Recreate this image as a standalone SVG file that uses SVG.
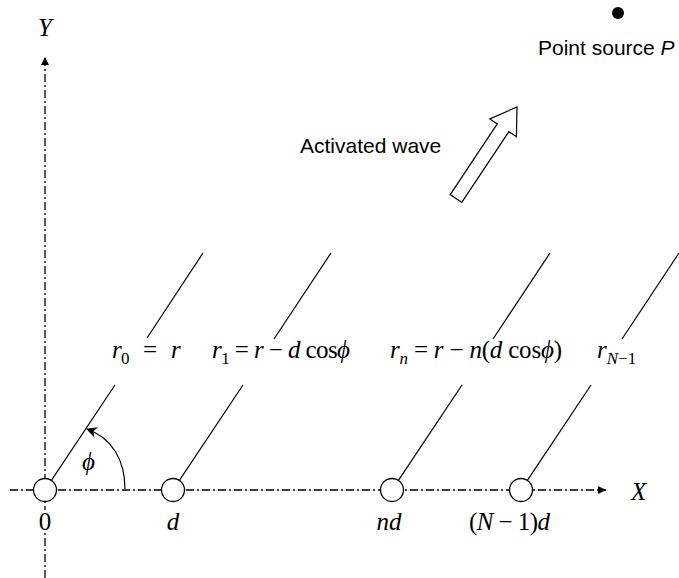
<svg xmlns="http://www.w3.org/2000/svg" width="679" height="578" viewBox="0 0 679 578">
<defs>
<style>
.axis{stroke:#000;stroke-width:1.3;fill:none;stroke-dasharray:8 3 2 3}
.ln{stroke:#000;stroke-width:1.2;fill:none}
.el{stroke:#000;stroke-width:1.3;fill:#fff}
.m{font-family:"Liberation Serif","Times New Roman",serif;font-size:25px;fill:#000}
.i{font-style:italic}
.sub{font-size:17px}
.s{font-family:"Liberation Sans",Arial,sans-serif;font-size:21px;fill:#000}
</style>
<marker id="ah" viewBox="0 0 10 10" refX="10" refY="5" markerWidth="11" markerHeight="8" markerUnits="userSpaceOnUse" orient="auto">
<path d="M0,0 L10,5 L0,10 Z" fill="#000"/>
</marker>
<marker id="ah2" viewBox="0 0 10 10" refX="9" refY="5" markerWidth="13" markerHeight="11" markerUnits="userSpaceOnUse" orient="auto">
<path d="M0,0 L10,5 L0,10 L3,5 Z" fill="#000"/>
</marker>
</defs>
<rect width="679" height="578" fill="#fff"/>
<g id="axes">
<line class="axis" x1="45" y1="578" x2="45" y2="57" marker-end="url(#ah)"/>
<line class="axis" x1="10" y1="490" x2="606" y2="490" marker-end="url(#ah)"/>
<text class="m i" x="38" y="36" font-size="27">Y</text>
<text class="m i" x="631" y="500" font-size="27">X</text>
</g>
<g id="connectors">
<line class="ln" x1="51.4" y1="480.4" x2="115" y2="385"/>
<line class="ln" x1="147" y1="338" x2="203" y2="253"/>
<line class="ln" x1="179.4" y1="480.4" x2="243" y2="385"/>
<line class="ln" x1="274" y1="339" x2="331" y2="253"/>
<line class="ln" x1="398.4" y1="480.4" x2="462" y2="385"/>
<line class="ln" x1="493" y1="339" x2="550" y2="253"/>
<line class="ln" x1="527.4" y1="480.4" x2="591" y2="385"/>
<line class="ln" x1="622" y1="339" x2="679" y2="253"/>
<path class="ln" d="M125,489 C125,460 112,438 87,429" marker-end="url(#ah2)" stroke-width="1.5"/>
</g>
<g id="element0">
<circle class="el" cx="45" cy="490" r="11.5"/>
<rect x="37" y="510" width="16" height="23" fill="#fff"/>
<text class="m" x="45" y="530" text-anchor="middle">0</text>
<text class="m" y="358"><tspan class="i" x="112">r</tspan><tspan class="sub" x="121" dy="6">0</tspan><tspan x="143" dy="-6">=</tspan><tspan class="i" x="171">r</tspan></text>
</g>
<g id="element1">
<circle class="el" cx="173" cy="490" r="11.5"/>
<text class="m i" x="173" y="530" text-anchor="middle">d</text>
<text class="m" x="212" y="358" textLength="138" lengthAdjust="spacing"><tspan class="i">r</tspan><tspan class="sub" dy="6">1</tspan><tspan dy="-6"> = </tspan><tspan class="i">r</tspan> − <tspan class="i">d</tspan> cos<tspan class="i">ϕ</tspan></text>
</g>
<g id="elementn">
<circle class="el" cx="392" cy="490" r="11.5"/>
<text class="m i" x="389" y="530" text-anchor="middle">nd</text>
<text class="m" x="390" y="358" textLength="172" lengthAdjust="spacing"><tspan class="i">r</tspan><tspan class="sub i" dy="6">n</tspan><tspan dy="-6"> = </tspan><tspan class="i">r</tspan> − <tspan class="i">n</tspan>(<tspan class="i">d</tspan> cos<tspan class="i">ϕ</tspan>)</text>
</g>
<g id="elementN1">
<circle class="el" cx="521" cy="490" r="11.5"/>
<text class="m" x="469" y="530" textLength="81" lengthAdjust="spacing">(<tspan class="i">N</tspan> − 1)<tspan class="i">d</tspan></text>
<text class="m" x="597" y="358"><tspan class="i">r</tspan><tspan class="sub" dy="6"><tspan class="i">N</tspan>−1</tspan></text>
</g>
<g id="angle">
<text class="m i" x="82" y="470">ϕ</text>
</g>
<g id="wave">
<path d="M517,107 L516.4,136.7 L508.9,131.7 L461.8,202.4 L450.2,194.6 L497.3,123.9 L489.8,118.9 Z" fill="#fff" stroke="#000" stroke-width="1.2" stroke-linejoin="miter"/>
<text class="s" x="300" y="153">Activated wave</text>
</g>
<g id="source">
<circle cx="618" cy="13" r="6" fill="#000"/>
<text class="s" x="538" y="55">Point source <tspan font-style="italic">P</tspan></text>
</g>
</svg>
